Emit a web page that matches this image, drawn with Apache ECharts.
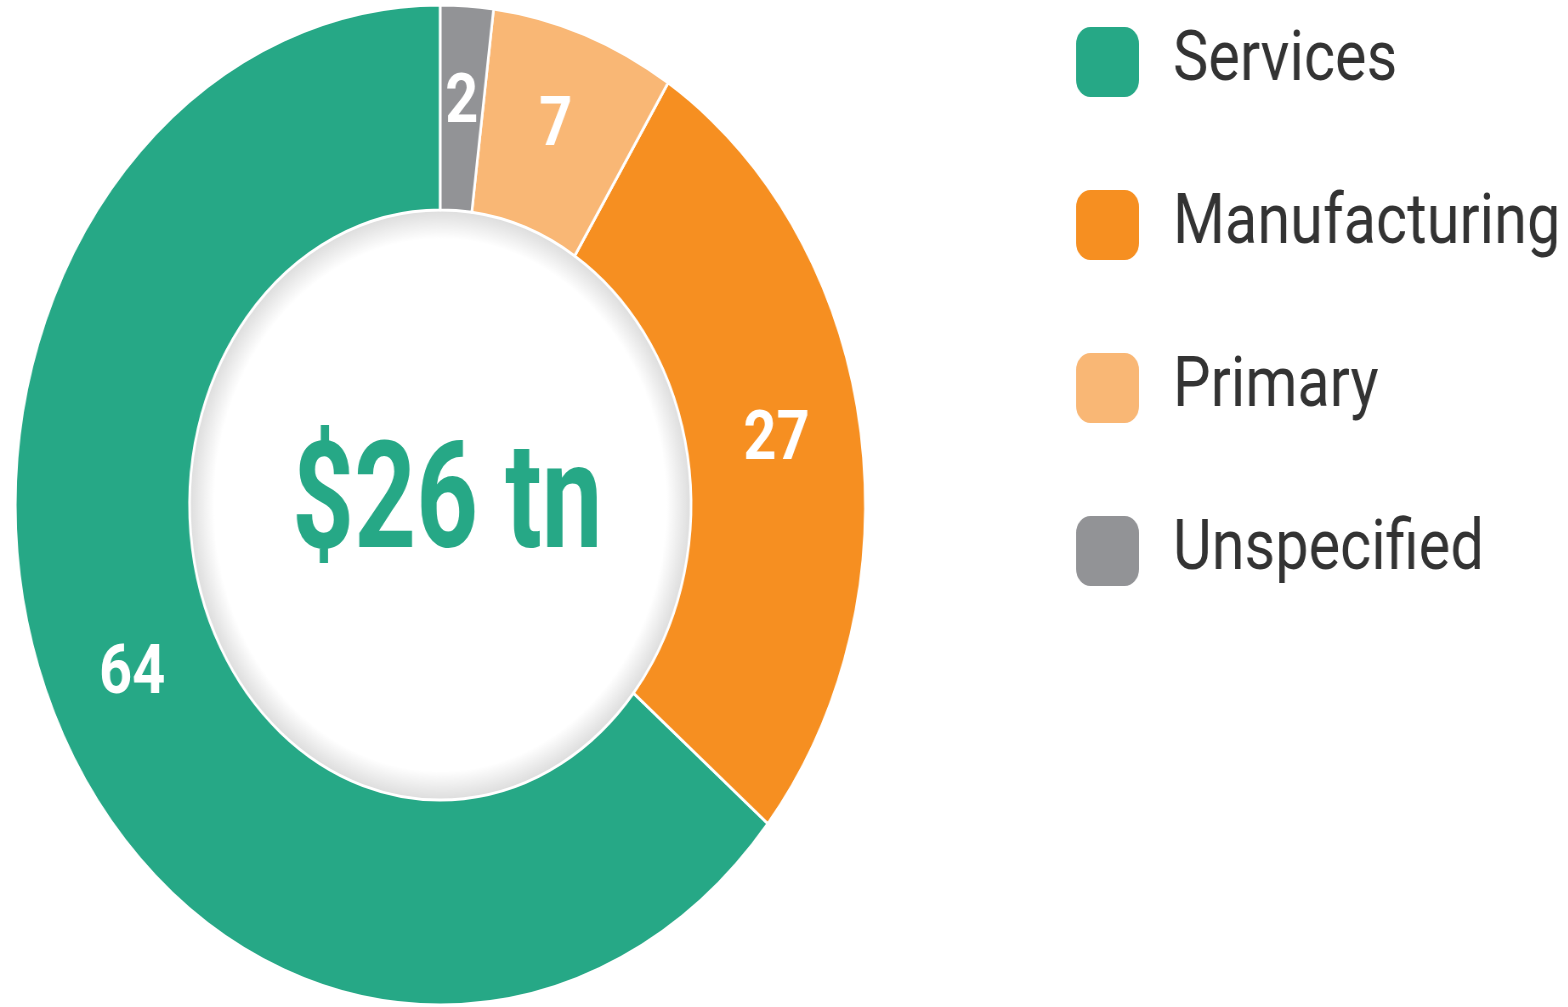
<!DOCTYPE html>
<html>
<head>
<meta charset="utf-8">
<script src="https://cdn.jsdelivr.net/npm/echarts@6/dist/echarts.min.js"></script>
<style>
  html, body { margin: 0; padding: 0; background: #fff; overflow: hidden; width: 1568px; height: 1007px; }
  /* the reference is squeezed horizontally, so the chart is drawn wide and scaled down in x */
  #chart { width: 1845px; height: 1007px; transform: scale(0.85, 1); transform-origin: 0 0; }
</style>
</head>
<body>
<div id="chart"></div>
<script>
// data
const categories = ['Services', 'Manufacturing', 'Primary', 'Unspecified'];
const shares = [64, 27, 7, 2];
const totalLabel = '$26 tn';

const palette = ['#26a886', '#f68f21', '#f9b775', '#929396'];
const fontFamily = 'Roboto, "Liberation Sans", sans-serif';

const chart = echarts.init(document.getElementById('chart'));

const option = {
  animation: false,
  color: palette,
  legend: {
    orient: 'vertical',
    left: 1259,
    top: 20,
    itemWidth: 76,
    itemHeight: 72,
    itemGap: 89,
    icon: 'roundRect',
    data: categories,
    textStyle: {
      color: '#333',
      fontSize: 70,
      lineHeight: 72,
      fontFamily: fontFamily,
      padding: [0, 0, 0, 34]
    }
  },
  graphic: [
    {
      // total in the hole, extra narrow like the original
      type: 'text',
      x: 526,
      y: 510,
      scaleX: 0.86,
      z: 100,
      style: {
        text: totalLabel,
        x: 0,
        y: 0,
        align: 'center',
        verticalAlign: 'middle',
        fill: '#26a886',
        font: 'bold 148px ' + fontFamily
      }
    }
  ],
  series: [
    {
      // soft grey edge inside the hole
      type: 'pie',
      center: [518, 505],
      radius: [240, 296],
      silent: true,
      label: { show: false },
      data: [{ value: 1, name: '_ring' }],
      itemStyle: {
        color: new echarts.graphic.RadialGradient(0.5, 0.5, 0.5, [
          { offset: 0.9, color: '#ffffff' },
          { offset: 0.97, color: '#e6e6e6' },
          { offset: 1, color: '#dcdcdc' }
        ])
      }
    },
    {
      name: 'Sectors',
      type: 'pie',
      center: [518, 505],
      radius: [295, 500],
      startAngle: 90,
      clockwise: false,
      itemStyle: {
        borderColor: '#fff',
        borderWidth: 3
      },
      label: {
        show: true,
        position: 'inside',
        formatter: '{c}',
        color: '#fff',
        fontSize: 68,
        fontWeight: 'bold',
        fontFamily: fontFamily
      },
      labelLine: { show: false },
      data: categories.map((c, i) => ({ name: c, value: shares[i] }))
    }
  ]
};

chart.setOption(option);
</script>
</body>
</html>
